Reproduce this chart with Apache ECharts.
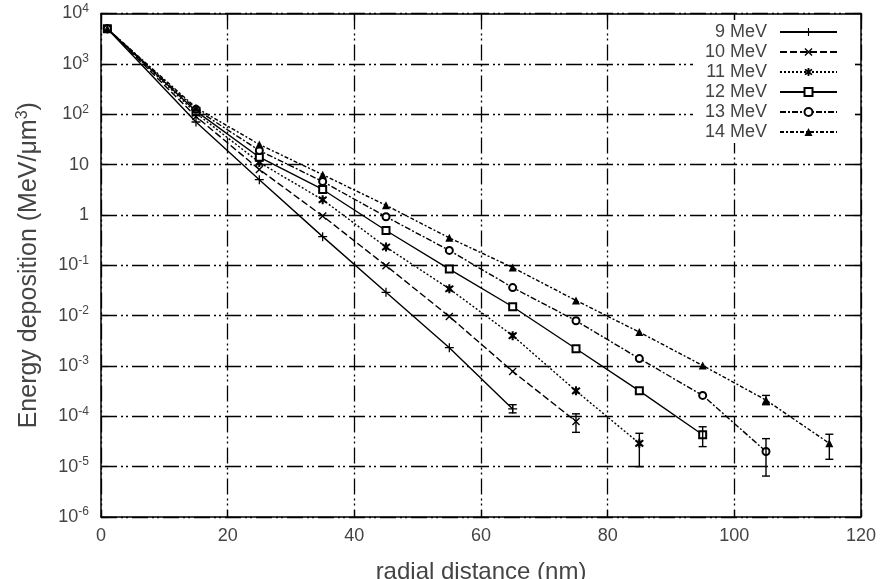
<!DOCTYPE html>
<html><head><meta charset="utf-8">
<script src="https://cdn.jsdelivr.net/npm/echarts@6/dist/echarts.min.js"></script>
<style>html,body{margin:0;padding:0;background:#fff}#c{width:881px;height:579px}</style>
</head><body><div id="c"></div>
<script>
// radial distance (nm)
const xs = [1, 15, 25, 35, 45, 55, 65, 75, 85, 95, 105, 115];
const seriesNames = ['9 MeV', '10 MeV', '11 MeV', '12 MeV', '13 MeV', '14 MeV'];
// energy deposition (MeV/um^3)
const e9  = [5000, 70, 5.0, 0.37, 0.029, 0.0023, 1.4e-4];
const e10 = [5000, 90, 8, 0.95, 0.098, 0.0096, 7.8e-4, 7.9e-5];
const e11 = [5000, 105, 11, 2.0, 0.23, 0.034, 0.0040, 3.2e-4, 2.9e-5];
const e12 = [5000, 115, 14, 3.2, 0.49, 0.084, 0.015, 0.0022, 3.2e-4, 4.3e-5];
const e13 = [5000, 125, 19, 4.6, 0.92, 0.197, 0.036, 0.0079, 0.0014, 2.6e-4, 2.0e-5];
const e14 = [5000, 135, 25, 6.3, 1.55, 0.35, 0.090, 0.020, 0.0047, 1.02e-3, 2.1e-4, 2.9e-5];
// error bars [x, low, high]
const err9  = [[65, 1.17e-4, 1.7e-4]];
const err10 = [[75, 4.8e-5, 1.12e-4]];
const err11 = [[85, 1.0e-5, 4.6e-5]];
const err12 = [[95, 2.5e-5, 6.2e-5]];
const err13 = [[105, 6.5e-6, 3.6e-5]];
const err14 = [[105, 1.7e-4, 2.6e-4], [115, 1.4e-5, 4.4e-5]];

const FONT = 'Liberation Sans, Arial, Helvetica, sans-serif';
const TXT = '#444';
const values = [e9, e10, e11, e12, e13, e14];
const errs = [err9, err10, err11, err12, err13, err14];
const dashes = ['solid', [7,3], [2,2], 'solid', [6,2,2,2], [4,2,2,2]];
const plusP = 'path://M-0.7,-5H0.7V-0.7H5V0.7H0.7V5H-0.7V0.7H-5V-0.7H-0.7Z';
const xP = 'path://M-4.2,-3.2L-3.2,-4.2L0,-1L3.2,-4.2L4.2,-3.2L1,0L4.2,3.2L3.2,4.2L0,1L-3.2,4.2L-4.2,3.2L-1,0Z';
const starP = 'path://M-1,-5H1V-2.6L3.4,-4.2L4.4,-2.6L1.8,0L4.4,2.6L3.4,4.2L1,2.6V5H-1V2.6L-3.4,4.2L-4.4,2.6L-1.8,0L-4.4,-2.6L-3.4,-4.2L-1,-2.6Z';
const symbols = [plusP, xP, starP, 'emptyRect', 'emptyCircle', 'triangle'];
const sizes = [9, 8, 9, 7, 7, 8];

const series = [];
seriesNames.forEach((n, i) => {
  series.push({
    name: n, type: 'line', xAxisIndex: 0, yAxisIndex: 0,
    data: values[i].map((v, k) => [xs[k], v]),
    symbol: symbols[i], symbolSize: sizes[i], showAllSymbol: true,
    lineStyle: {color: '#000', width: 1.4, type: dashes[i]},
    itemStyle: {color: '#000', borderColor: '#000', borderWidth: (i === 3 || i === 4) ? 1.4 : 0},
    emphasis: {disabled: true}, animation: false, z: 3
  });
  series.push({
    type: 'custom', xAxisIndex: 0, yAxisIndex: 0,
    data: errs[i], encode: {x: 0, y: [1, 2]}, animation: false, z: 4,
    renderItem: function (params, api) {
      const x = api.value(0);
      const lo = api.coord([x, api.value(1)]);
      const hi = api.coord([x, api.value(2)]);
      const w = 4;
      const st = {stroke: '#000', lineWidth: 1.4};
      return {type: 'group', children: [
        {type: 'line', shape: {x1: lo[0], y1: lo[1], x2: hi[0], y2: hi[1]}, style: st},
        {type: 'line', shape: {x1: lo[0]-w, y1: lo[1], x2: lo[0]+w, y2: lo[1]}, style: st},
        {type: 'line', shape: {x1: hi[0]-w, y1: hi[1], x2: hi[0]+w, y2: hi[1]}, style: st}
      ]};
    }
  });
});

const gridDash = [16, 4, 2, 3, 2, 4];
const chart = echarts.init(document.getElementById('c'), null, {renderer: 'canvas'});
chart.setOption({
  backgroundColor: '#fff',
  animation: false,
  textStyle: {fontFamily: FONT},
  grid: {left: 101, right: 20, top: 13.5, bottom: 62, containLabel: false, outerBoundsMode: 'none'},
  legend: {
    data: seriesNames, orient: 'vertical', right: 26, top: 20,
    align: 'right', itemWidth: 57, itemHeight: 10, itemGap: 2,
    backgroundColor: '#fff', padding: [3, 17, 2, 10], z: 10,
    formatter: '{a|{name}}',
    textStyle: {fontFamily: FONT, fontSize: 18, color: TXT, lineHeight: 18,
      rich: {a: {fontFamily: FONT, fontSize: 18, color: TXT, lineHeight: 18, width: 64, align: 'right', padding: [0, 8, 0, 0]}}},
    selectedMode: false
  },
  xAxis: [{
    type: 'value', min: 0, max: 120, interval: 20, position: 'bottom',
    name: 'radial distance (nm)', nameLocation: 'middle', nameGap: 43,
    nameTextStyle: {fontFamily: FONT, fontSize: 24, color: TXT},
    axisLine: {show: true, onZero: false, lineStyle: {color: '#000', width: 1.5}},
    axisTick: {show: true, inside: true, length: 7, lineStyle: {color: '#000', width: 1.2}},
    axisLabel: {fontFamily: FONT, fontSize: 18, color: TXT, margin: 10},
    splitLine: {show: true, lineStyle: {color: '#000', width: 1.3, type: gridDash}}
  }, {
    type: 'value', min: 0, max: 120, interval: 20, position: 'top',
    axisLine: {show: true, onZero: false, lineStyle: {color: '#000', width: 1.5}},
    axisTick: {show: true, inside: true, length: 7, lineStyle: {color: '#000', width: 1.2}},
    axisLabel: {show: false}, splitLine: {show: false}
  }],
  yAxis: [{
    type: 'log', logBase: 10, min: 1e-6, max: 1e4, interval: 1, position: 'left',
    name: 'Energy deposition (MeV/μm{sup|3})', nameLocation: 'middle', nameGap: 57, nameRotate: 90,
    nameTextStyle: {fontFamily: FONT, fontSize: 25, color: TXT,
      rich: {sup: {fontFamily: FONT, fontSize: 16, color: TXT, verticalAlign: 'top', padding: [0, 0, 13, 0]}}},
    axisLine: {show: true, onZero: false, lineStyle: {color: '#000', width: 1.5}},
    axisTick: {show: true, inside: true, length: 7, lineStyle: {color: '#000', width: 1.2}},
    axisLabel: {
      fontFamily: FONT, fontSize: 18, color: TXT, margin: 12,
      formatter: function (v) {
        const e = Math.round(Math.log10(v));
        if (e === 0) return '1';
        if (e === 1) return '10';
        return '10{sup|' + e + '}';
      },
      rich: {sup: {fontFamily: FONT, fontSize: 12, color: TXT, verticalAlign: 'top', padding: [0, 0, 10, 0]}}
    },
    splitLine: {show: true, lineStyle: {color: '#000', width: 1.3, type: gridDash}}
  }, {
    type: 'log', logBase: 10, min: 1e-6, max: 1e4, interval: 1, position: 'right',
    axisLine: {show: true, onZero: false, lineStyle: {color: '#000', width: 1.5}},
    axisTick: {show: true, inside: true, length: 7, lineStyle: {color: '#000', width: 1.2}},
    axisLabel: {show: false}, splitLine: {show: false}
  }],
  series: series
});
</script>
</body></html>
